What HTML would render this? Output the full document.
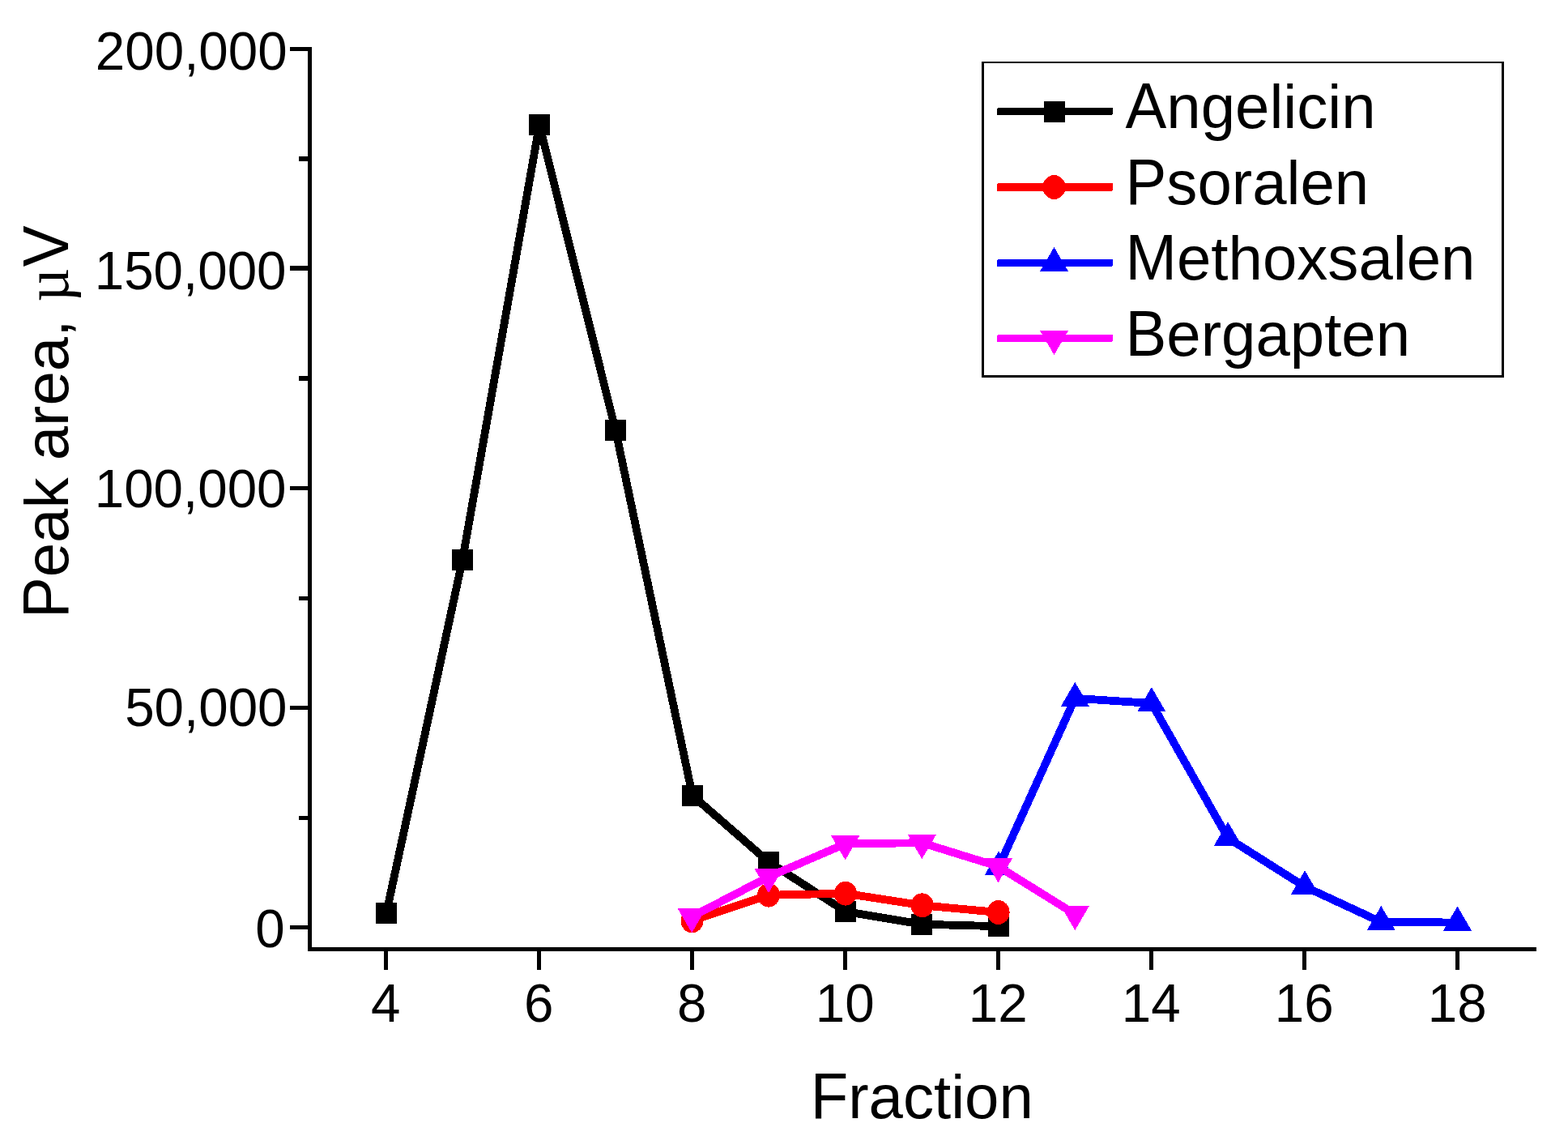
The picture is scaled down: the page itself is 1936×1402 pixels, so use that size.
<!DOCTYPE html>
<html lang="en">
<head>
<meta charset="utf-8">
<title>Peak area vs. fraction</title>
<style>
html,body{margin:0;padding:0;background:#fff;}
body{width:1936px;height:1402px;overflow:hidden;}
svg{display:block;}
text{font-family:"Liberation Sans",sans-serif;fill:#000;}
.tick{font-size:67.2px;}
.title{font-size:76.2px;}
.cap{font-size:80px;}
.sym{font-family:"Liberation Serif",serif;}
</style>
</head>
<body>
<svg shape-rendering="crispEdges" width="1936" height="1402" viewBox="0 0 1936 1402">
<rect x="0" y="0" width="1936" height="1402" fill="#ffffff"/>

<g id="axes" fill="#000">
<rect x="380" y="58" width="5" height="1116"/>
<rect x="380" y="1169" width="1517" height="5" rx="1"/>
<rect x="358" y="1142" width="24" height="5" rx="1.5"/>
<rect x="358" y="871" width="24" height="5" rx="1.5"/>
<rect x="358" y="600" width="24" height="5" rx="1.5"/>
<rect x="358" y="328" width="24" height="6" rx="1.5"/>
<rect x="358" y="58" width="24" height="5" rx="1.5"/>
<rect x="369" y="1007" width="13" height="5" rx="1.5"/>
<rect x="369" y="736" width="13" height="5" rx="1.5"/>
<rect x="369" y="464" width="13" height="6" rx="1.5"/>
<rect x="369" y="193" width="13" height="6" rx="1.5"/>
<rect x="474" y="1172" width="5" height="25" rx="1.5"/>
<rect x="663" y="1172" width="5" height="25" rx="1.5"/>
<rect x="852" y="1172" width="5" height="25" rx="1.5"/>
<rect x="1041" y="1172" width="5" height="25" rx="1.5"/>
<rect x="1230" y="1172" width="5" height="25" rx="1.5"/>
<rect x="1419" y="1172" width="5" height="25" rx="1.5"/>
<rect x="1608" y="1172" width="5" height="25" rx="1.5"/>
<rect x="1797" y="1172" width="5" height="25" rx="1.5"/>
</g>
<g id="ylabels">
<text class="tick" transform="translate(351.659,1169.2) scale(0.975,1)" text-anchor="end">0</text>
<text class="tick" transform="translate(354.559,896.2) scale(0.975,1)" text-anchor="end">50,000</text>
<text class="tick" transform="translate(353.559,626.1) scale(0.975,1)" text-anchor="end">100,000</text>
<text class="tick" transform="translate(353.559,357.1) scale(0.975,1)" text-anchor="end">150,000</text>
<text class="tick" transform="translate(354.659,86.1) scale(0.975,1)" text-anchor="end">200,000</text>
</g>
<g id="xlabels">
<text class="tick" transform="translate(476.3,1261) scale(0.975,1)" text-anchor="middle">4</text>
<text class="tick" transform="translate(665.3,1261) scale(0.975,1)" text-anchor="middle">6</text>
<text class="tick" transform="translate(854.3,1261) scale(0.975,1)" text-anchor="middle">8</text>
<text class="tick" transform="translate(1043.3,1261) scale(0.975,1)" text-anchor="middle">10</text>
<text class="tick" transform="translate(1232.3,1261) scale(0.975,1)" text-anchor="middle">12</text>
<text class="tick" transform="translate(1421.3,1261) scale(0.975,1)" text-anchor="middle">14</text>
<text class="tick" transform="translate(1610.3,1261) scale(0.975,1)" text-anchor="middle">16</text>
<text class="tick" transform="translate(1799.3,1261) scale(0.975,1)" text-anchor="middle">18</text>
</g>
<text class="title" x="1000.65" y="1380"><tspan class="cap" textLength="46.55" lengthAdjust="spacingAndGlyphs">F</tspan>raction</text>
<g id="ytitle" transform="translate(84,763.1) rotate(-90)">
<text class="title" x="0" y="0"><tspan class="cap" textLength="50.82" lengthAdjust="spacingAndGlyphs">P</tspan>eak area, <tspan class="sym" dx="1.07" textLength="41.58" lengthAdjust="spacingAndGlyphs">µ</tspan><tspan class="cap" dx="1.45" textLength="50.82" lengthAdjust="spacingAndGlyphs">V</tspan></text>
</g>
<g id="angelicin">
<polyline points="477,1127 571,691 666,154 760,530.75 855,981.8 949.2,1063.8 1044,1125 1138,1140.7 1233,1143.2" fill="none" stroke="#000000" stroke-width="9.8" stroke-linejoin="round" stroke-linecap="round"/>
<rect x="464" y="1114" width="26" height="26" fill="#000000"/>
<rect x="558" y="678" width="26" height="26" fill="#000000"/>
<rect x="653" y="141" width="26" height="26" fill="#000000"/>
<rect x="747" y="517.75" width="26" height="26" fill="#000000"/>
<rect x="842" y="968.8" width="26" height="26" fill="#000000"/>
<rect x="936.2" y="1050.8" width="26" height="26" fill="#000000"/>
<rect x="1031" y="1112" width="26" height="26" fill="#000000"/>
<rect x="1125" y="1127.7" width="26" height="26" fill="#000000"/>
<rect x="1220" y="1130.2" width="26" height="26" fill="#000000"/>
</g>
<g id="psoralen">
<polyline points="854.5,1136.3 949,1104.7 1043.9,1102.7 1138.6,1117.3 1232.6,1126" fill="none" stroke="#ff0000" stroke-width="9.8" stroke-linejoin="round" stroke-linecap="round"/>
<ellipse cx="854.5" cy="1136.3" rx="14" ry="14.9" fill="#ff0000"/>
<ellipse cx="949" cy="1104.7" rx="14" ry="14.9" fill="#ff0000"/>
<ellipse cx="1043.9" cy="1102.7" rx="14" ry="14.9" fill="#ff0000"/>
<ellipse cx="1138.6" cy="1117.3" rx="14" ry="14.9" fill="#ff0000"/>
<ellipse cx="1232.6" cy="1126" rx="14" ry="14.9" fill="#ff0000"/>
</g>
<g id="methoxsalen">
<polyline points="1233,1070.3 1327.3,861.8 1421.8,868 1516.1,1034.2 1611.1,1094.3 1705.3,1138 1799.5,1138.5" fill="none" stroke="#0000ff" stroke-width="9.8" stroke-linejoin="round" stroke-linecap="round"/>
<polygon points="1233,1050.3 1250.5,1080.3 1215.5,1080.3" fill="#0000ff"/>
<polygon points="1327.3,841.8 1344.8,871.8 1309.8,871.8" fill="#0000ff"/>
<polygon points="1421.8,848 1439.3,878 1404.3,878" fill="#0000ff"/>
<polygon points="1516.1,1014.2 1533.6,1044.2 1498.6,1044.2" fill="#0000ff"/>
<polygon points="1611.1,1074.3 1628.6,1104.3 1593.6,1104.3" fill="#0000ff"/>
<polygon points="1705.3,1118 1722.8,1148 1687.8,1148" fill="#0000ff"/>
<polygon points="1799.5,1118.5 1817,1148.5 1782,1148.5" fill="#0000ff"/>
</g>
<g id="bergapten">
<polyline points="854.2,1131.3 949,1082.2 1043.7,1041.4 1138.3,1040.2 1232.5,1069.3 1327.3,1128.2" fill="none" stroke="#ff00ff" stroke-width="9.8" stroke-linejoin="round" stroke-linecap="round"/>
<polygon points="854.2,1151.3 871.7,1121.3 836.7,1121.3" fill="#ff00ff"/>
<polygon points="949,1102.2 966.5,1072.2 931.5,1072.2" fill="#ff00ff"/>
<polygon points="1043.7,1061.4 1061.2,1031.4 1026.2,1031.4" fill="#ff00ff"/>
<polygon points="1138.3,1060.2 1155.8,1030.2 1120.8,1030.2" fill="#ff00ff"/>
<polygon points="1232.5,1089.3 1250,1059.3 1215,1059.3" fill="#ff00ff"/>
<polygon points="1327.3,1148.2 1344.8,1118.2 1309.8,1118.2" fill="#ff00ff"/>
</g>
<g id="legend">
<rect x="1212" y="76" width="645" height="390" fill="#ffffff"/>
<g fill="#000"><rect x="1212" y="76" width="645" height="2"/><rect x="1212" y="463" width="645" height="3"/><rect x="1212" y="76" width="3" height="390"/><rect x="1854" y="76" width="3" height="390"/></g>
<rect x="1231" y="133" width="143" height="9" rx="2" fill="#000000"/>
<rect x="1289" y="125" width="26" height="26" fill="#000000"/>
<text class="title" x="1389.5" y="158"><tspan class="cap" textLength="50.82" lengthAdjust="spacingAndGlyphs">A</tspan>ngelicin</text>
<rect x="1231" y="226" width="143" height="10" rx="2" fill="#ff0000"/>
<ellipse cx="1301.5" cy="231" rx="14" ry="14.9" fill="#ff0000"/>
<text class="title" x="1389.5" y="251.8"><tspan class="cap" textLength="50.82" lengthAdjust="spacingAndGlyphs">P</tspan>soralen</text>
<rect x="1231" y="320" width="143" height="9" rx="2" fill="#0000ff"/>
<polygon points="1301.5,305 1319,335 1284,335" fill="#0000ff"/>
<text class="title" x="1389.5" y="345.4"><tspan class="cap" textLength="63.48" lengthAdjust="spacingAndGlyphs">M</tspan>ethoxsalen</text>
<rect x="1231" y="413" width="143" height="9" rx="2" fill="#ff00ff"/>
<polygon points="1301.5,438 1319,408 1284,408" fill="#ff00ff"/>
<text class="title" x="1389.5" y="439.3"><tspan class="cap" textLength="50.82" lengthAdjust="spacingAndGlyphs">B</tspan>ergapten</text>
</g>
</svg>
</body>
</html>
